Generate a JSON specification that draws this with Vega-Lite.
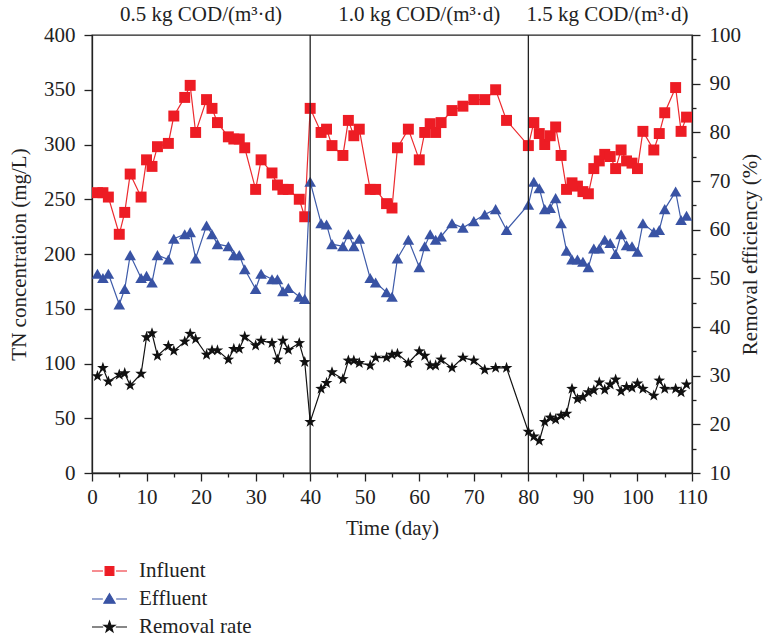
{
  "$schema": "https://vega.github.io/schema/vega-lite/v6.json",
  "width": 600,
  "height": 438,
  "autosize": {"type": "none"},
  "padding": {"left": 92, "top": 35, "right": 72, "bottom": 168},
  "background": "white",
  "config": {
    "font": "Liberation Serif",
    "view": {"stroke": "#222", "strokeWidth": 1.3},
    "axis": {
      "grid": false,
      "domainColor": "#222",
      "domainWidth": 1.3,
      "tickColor": "#222",
      "tickWidth": 1.3,
      "labelColor": "#222",
      "titleColor": "#222",
      "labelFont": "Liberation Serif",
      "titleFont": "Liberation Serif",
      "labelFontSize": 21,
      "titleFontSize": 21,
      "titleFontWeight": "normal",
      "labelPadding": 5
    }
  },
  "datasets": {
    "tn": [
      {"day": 1, "series": "Influent", "value": 256}, {"day": 2, "series": "Influent", "value": 256}, {"day": 3, "series": "Influent", "value": 252}, {"day": 5, "series": "Influent", "value": 218}, {"day": 6, "series": "Influent", "value": 238}, {"day": 7, "series": "Influent", "value": 273}, {"day": 9, "series": "Influent", "value": 252}, {"day": 10, "series": "Influent", "value": 286}, {"day": 11, "series": "Influent", "value": 280}, {"day": 12, "series": "Influent", "value": 298}, {"day": 14, "series": "Influent", "value": 301}, {"day": 15, "series": "Influent", "value": 326}, {"day": 17, "series": "Influent", "value": 343}, {"day": 18, "series": "Influent", "value": 354}, {"day": 19, "series": "Influent", "value": 311}, {"day": 21, "series": "Influent", "value": 341}, {"day": 22, "series": "Influent", "value": 333}, {"day": 23, "series": "Influent", "value": 320}, {"day": 25, "series": "Influent", "value": 307}, {"day": 26, "series": "Influent", "value": 305}, {"day": 27, "series": "Influent", "value": 305}, {"day": 28, "series": "Influent", "value": 297}, {"day": 30, "series": "Influent", "value": 259}, {"day": 31, "series": "Influent", "value": 286}, {"day": 33, "series": "Influent", "value": 274}, {"day": 34, "series": "Influent", "value": 263}, {"day": 35, "series": "Influent", "value": 259}, {"day": 36, "series": "Influent", "value": 259}, {"day": 38, "series": "Influent", "value": 250}, {"day": 39, "series": "Influent", "value": 234}, {"day": 40, "series": "Influent", "value": 333},
      {"day": 42, "series": "Influent", "value": 311}, {"day": 43, "series": "Influent", "value": 314}, {"day": 44, "series": "Influent", "value": 299}, {"day": 46, "series": "Influent", "value": 290}, {"day": 47, "series": "Influent", "value": 322}, {"day": 48, "series": "Influent", "value": 308}, {"day": 49, "series": "Influent", "value": 314}, {"day": 51, "series": "Influent", "value": 259}, {"day": 52, "series": "Influent", "value": 259}, {"day": 54, "series": "Influent", "value": 246}, {"day": 55, "series": "Influent", "value": 242}, {"day": 56, "series": "Influent", "value": 297}, {"day": 58, "series": "Influent", "value": 314}, {"day": 60, "series": "Influent", "value": 286}, {"day": 61, "series": "Influent", "value": 311}, {"day": 62, "series": "Influent", "value": 319}, {"day": 63, "series": "Influent", "value": 311}, {"day": 64, "series": "Influent", "value": 320}, {"day": 66, "series": "Influent", "value": 331}, {"day": 68, "series": "Influent", "value": 335}, {"day": 70, "series": "Influent", "value": 341}, {"day": 72, "series": "Influent", "value": 341}, {"day": 74, "series": "Influent", "value": 350}, {"day": 76, "series": "Influent", "value": 322}, {"day": 80, "series": "Influent", "value": 299},
      {"day": 81, "series": "Influent", "value": 320}, {"day": 82, "series": "Influent", "value": 310}, {"day": 83, "series": "Influent", "value": 300}, {"day": 84, "series": "Influent", "value": 308}, {"day": 85, "series": "Influent", "value": 316}, {"day": 86, "series": "Influent", "value": 290}, {"day": 87, "series": "Influent", "value": 259}, {"day": 88, "series": "Influent", "value": 265}, {"day": 89, "series": "Influent", "value": 262}, {"day": 90, "series": "Influent", "value": 257}, {"day": 91, "series": "Influent", "value": 255}, {"day": 92, "series": "Influent", "value": 278}, {"day": 93, "series": "Influent", "value": 285}, {"day": 94, "series": "Influent", "value": 291}, {"day": 95, "series": "Influent", "value": 289}, {"day": 96, "series": "Influent", "value": 278}, {"day": 97, "series": "Influent", "value": 295}, {"day": 98, "series": "Influent", "value": 285}, {"day": 99, "series": "Influent", "value": 283}, {"day": 100, "series": "Influent", "value": 278}, {"day": 101, "series": "Influent", "value": 312}, {"day": 103, "series": "Influent", "value": 295}, {"day": 104, "series": "Influent", "value": 310}, {"day": 105, "series": "Influent", "value": 329}, {"day": 107, "series": "Influent", "value": 352}, {"day": 108, "series": "Influent", "value": 312}, {"day": 109, "series": "Influent", "value": 325},
      {"day": 1, "series": "Effluent", "value": 182}, {"day": 2, "series": "Effluent", "value": 178}, {"day": 3, "series": "Effluent", "value": 182}, {"day": 5, "series": "Effluent", "value": 154}, {"day": 6, "series": "Effluent", "value": 168}, {"day": 7, "series": "Effluent", "value": 199}, {"day": 9, "series": "Effluent", "value": 178}, {"day": 10, "series": "Effluent", "value": 180}, {"day": 11, "series": "Effluent", "value": 174}, {"day": 12, "series": "Effluent", "value": 199}, {"day": 14, "series": "Effluent", "value": 195}, {"day": 15, "series": "Effluent", "value": 214}, {"day": 17, "series": "Effluent", "value": 218}, {"day": 18, "series": "Effluent", "value": 220}, {"day": 19, "series": "Effluent", "value": 196}, {"day": 21, "series": "Effluent", "value": 226}, {"day": 22, "series": "Effluent", "value": 218}, {"day": 23, "series": "Effluent", "value": 209}, {"day": 25, "series": "Effluent", "value": 207}, {"day": 26, "series": "Effluent", "value": 199}, {"day": 27, "series": "Effluent", "value": 199}, {"day": 28, "series": "Effluent", "value": 186}, {"day": 30, "series": "Effluent", "value": 168}, {"day": 31, "series": "Effluent", "value": 182}, {"day": 33, "series": "Effluent", "value": 177}, {"day": 34, "series": "Effluent", "value": 177}, {"day": 35, "series": "Effluent", "value": 166}, {"day": 36, "series": "Effluent", "value": 169}, {"day": 38, "series": "Effluent", "value": 161}, {"day": 39, "series": "Effluent", "value": 159}, {"day": 40, "series": "Effluent", "value": 266},
      {"day": 42, "series": "Effluent", "value": 228}, {"day": 43, "series": "Effluent", "value": 227}, {"day": 44, "series": "Effluent", "value": 209}, {"day": 46, "series": "Effluent", "value": 207}, {"day": 47, "series": "Effluent", "value": 218}, {"day": 48, "series": "Effluent", "value": 207}, {"day": 49, "series": "Effluent", "value": 214}, {"day": 51, "series": "Effluent", "value": 178}, {"day": 52, "series": "Effluent", "value": 174}, {"day": 54, "series": "Effluent", "value": 165}, {"day": 55, "series": "Effluent", "value": 161}, {"day": 56, "series": "Effluent", "value": 196}, {"day": 58, "series": "Effluent", "value": 213}, {"day": 60, "series": "Effluent", "value": 188}, {"day": 61, "series": "Effluent", "value": 207}, {"day": 62, "series": "Effluent", "value": 218}, {"day": 63, "series": "Effluent", "value": 213}, {"day": 64, "series": "Effluent", "value": 216}, {"day": 66, "series": "Effluent", "value": 228}, {"day": 68, "series": "Effluent", "value": 224}, {"day": 70, "series": "Effluent", "value": 230}, {"day": 72, "series": "Effluent", "value": 236}, {"day": 74, "series": "Effluent", "value": 241}, {"day": 76, "series": "Effluent", "value": 222}, {"day": 80, "series": "Effluent", "value": 245},
      {"day": 81, "series": "Effluent", "value": 266}, {"day": 82, "series": "Effluent", "value": 260}, {"day": 83, "series": "Effluent", "value": 241}, {"day": 84, "series": "Effluent", "value": 242}, {"day": 85, "series": "Effluent", "value": 251}, {"day": 86, "series": "Effluent", "value": 228}, {"day": 87, "series": "Effluent", "value": 203}, {"day": 88, "series": "Effluent", "value": 195}, {"day": 89, "series": "Effluent", "value": 195}, {"day": 90, "series": "Effluent", "value": 193}, {"day": 91, "series": "Effluent", "value": 188}, {"day": 92, "series": "Effluent", "value": 205}, {"day": 93, "series": "Effluent", "value": 205}, {"day": 94, "series": "Effluent", "value": 213}, {"day": 95, "series": "Effluent", "value": 210}, {"day": 96, "series": "Effluent", "value": 200}, {"day": 97, "series": "Effluent", "value": 218}, {"day": 98, "series": "Effluent", "value": 208}, {"day": 99, "series": "Effluent", "value": 207}, {"day": 100, "series": "Effluent", "value": 202}, {"day": 101, "series": "Effluent", "value": 228}, {"day": 103, "series": "Effluent", "value": 220}, {"day": 104, "series": "Effluent", "value": 222}, {"day": 105, "series": "Effluent", "value": 241}, {"day": 107, "series": "Effluent", "value": 257}, {"day": 108, "series": "Effluent", "value": 231}, {"day": 109, "series": "Effluent", "value": 235}
    ],
    "rem": [
      {"day": 1, "value": 29.9}, {"day": 2, "value": 31.6}, {"day": 3, "value": 28.8}, {"day": 5, "value": 30.2}, {"day": 6, "value": 30.5}, {"day": 7, "value": 28.0}, {"day": 9, "value": 30.4}, {"day": 10, "value": 37.9}, {"day": 11, "value": 38.7}, {"day": 12, "value": 34.1}, {"day": 14, "value": 36.1}, {"day": 15, "value": 35.1}, {"day": 17, "value": 37.0}, {"day": 18, "value": 38.6}, {"day": 19, "value": 37.5}, {"day": 21, "value": 34.3}, {"day": 22, "value": 35.2}, {"day": 23, "value": 35.2}, {"day": 25, "value": 33.3}, {"day": 26, "value": 35.5}, {"day": 27, "value": 35.5}, {"day": 28, "value": 38.0}, {"day": 30, "value": 36.2}, {"day": 31, "value": 37.2}, {"day": 33, "value": 36.7}, {"day": 34, "value": 33.3}, {"day": 35, "value": 37.2}, {"day": 36, "value": 35.3}, {"day": 38, "value": 36.7}, {"day": 39, "value": 32.8}, {"day": 40, "value": 20.5},
      {"day": 42, "value": 27.3}, {"day": 43, "value": 28.5}, {"day": 44, "value": 30.7}, {"day": 46, "value": 29.3}, {"day": 47, "value": 33.1}, {"day": 48, "value": 33.1}, {"day": 49, "value": 32.6}, {"day": 51, "value": 32.1}, {"day": 52, "value": 33.7}, {"day": 54, "value": 33.7}, {"day": 55, "value": 34.3}, {"day": 56, "value": 34.5}, {"day": 58, "value": 32.6}, {"day": 60, "value": 35.0}, {"day": 61, "value": 34.1}, {"day": 62, "value": 32.1}, {"day": 63, "value": 32.1}, {"day": 64, "value": 33.3}, {"day": 66, "value": 31.6}, {"day": 68, "value": 33.7}, {"day": 70, "value": 33.1}, {"day": 72, "value": 31.2}, {"day": 74, "value": 31.6}, {"day": 76, "value": 31.6}, {"day": 80, "value": 18.5},
      {"day": 81, "value": 17.5}, {"day": 82, "value": 16.6}, {"day": 83, "value": 20.5}, {"day": 84, "value": 21.4}, {"day": 85, "value": 21.0}, {"day": 86, "value": 21.8}, {"day": 87, "value": 22.2}, {"day": 88, "value": 27.3}, {"day": 89, "value": 25.2}, {"day": 90, "value": 25.6}, {"day": 91, "value": 26.6}, {"day": 92, "value": 27.0}, {"day": 93, "value": 28.6}, {"day": 94, "value": 27.1}, {"day": 95, "value": 28.2}, {"day": 96, "value": 29.2}, {"day": 97, "value": 26.8}, {"day": 98, "value": 27.7}, {"day": 99, "value": 27.5}, {"day": 100, "value": 28.4}, {"day": 101, "value": 27.3}, {"day": 103, "value": 25.9}, {"day": 104, "value": 29.0}, {"day": 105, "value": 27.3}, {"day": 107, "value": 27.3}, {"day": 108, "value": 26.6}, {"day": 109, "value": 28.2}
    ],
    "phases": [
      {"day": 20, "label": "0.5 kg COD/(m³·d)"},
      {"day": 60, "label": "1.0 kg COD/(m³·d)"},
      {"day": 94.5, "label": "1.5 kg COD/(m³·d)"}
    ],
    "dividers": [{"day": 40}, {"day": 80}]
  },
  "encoding": {
    "x": {
      "field": "day",
      "type": "quantitative",
      "scale": {"domain": [0, 110], "nice": false, "zero": false},
      "axis": {
        "title": "Time (day)",
        "values": [0, 5, 10, 15, 20, 25, 30, 35, 40, 45, 50, 55, 60, 65, 70, 75, 80, 85, 90, 95, 100, 105, 110],
        "labelExpr": "datum.value % 10 === 0 ? datum.label : ''",
        "tickSize": {"condition": {"test": "datum.value % 10 === 0", "value": 8}, "value": 4},
        "labelFlush": false,
        "labelOverlap": false,
        "titlePadding": 10
      }
    }
  },
  "layer": [
    {
      "layer": [
        {
          "data": {"name": "tn"},
          "transform": [{"filter": "datum.series === 'Influent'"}],
          "mark": {"type": "line", "color": "#EC2A2E", "strokeWidth": 1.2},
          "encoding": {
            "y": {
              "field": "value",
              "type": "quantitative",
              "scale": {"domain": [0, 400], "nice": false},
              "axis": {
                "title": "TN concentration (mg/L)",
                "values": [0, 25, 50, 75, 100, 125, 150, 175, 200, 225, 250, 275, 300, 325, 350, 375, 400],
                "labelExpr": "datum.value % 50 === 0 ? datum.label : ''",
                "tickSize": {"condition": {"test": "datum.value % 50 === 0", "value": 8}, "value": 4},
                "labelPadding": 9,
                "labelOverlap": false,
                "labelFlush": false,
                "titlePadding": 14
              }
            }
          }
        },
        {
          "data": {"name": "tn"},
          "transform": [{"filter": "datum.series === 'Influent'"}],
          "mark": {"type": "point", "shape": "square", "filled": true, "opacity": 1, "color": "#ED1C24", "size": 120},
          "encoding": {"y": {"field": "value", "type": "quantitative"}}
        },
        {
          "data": {"name": "tn"},
          "transform": [{"filter": "datum.series === 'Effluent'"}],
          "mark": {"type": "line", "color": "#3E5BA9", "strokeWidth": 1.2},
          "encoding": {"y": {"field": "value", "type": "quantitative"}}
        },
        {
          "data": {"name": "tn"},
          "transform": [{"filter": "datum.series === 'Effluent'"}],
          "mark": {"type": "point", "shape": "triangle-up", "filled": true, "opacity": 1, "color": "#3953A4", "size": 135},
          "encoding": {"y": {"field": "value", "type": "quantitative"}}
        },
        {
          "data": {"name": "dividers"},
          "mark": {"type": "rule", "color": "#222", "strokeWidth": 1.3},
          "encoding": {}
        },
        {
          "data": {"name": "phases"},
          "mark": {"type": "text", "font": "Liberation Serif", "fontSize": 21, "color": "#222", "baseline": "middle", "align": "center"},
          "encoding": {
            "y": {"datum": 418, "type": "quantitative"},
            "text": {"field": "label"}
          }
        },
        {
          "data": {"name": "tn"},
          "transform": [{"filter": "datum.value < 0"}],
          "mark": {"type": "point", "filled": true, "opacity": 1, "size": 10},
          "encoding": {
            "y": {"field": "value", "type": "quantitative"},
            "fill": {
              "field": "series",
              "type": "nominal",
              "scale": {"domain": ["Influent", "Effluent", "Removal rate"], "range": ["#ED1C24", "#3953A4", "#111111"]},
              "legend": {
                "orient": "none",
                "direction": "vertical",
                "legendX": -1,
                "legendY": 526,
                "title": null,
                "padding": 0,
                "symbolSize": 1225,
                "symbolStrokeWidth": 1.2,
                "symbolOpacity": 1,
                "labelFont": "Liberation Serif",
                "labelFontSize": 21,
                "labelColor": "#222",
                "labelOffset": 11,
                "clipHeight": 20,
                "rowPadding": 7
              }
            },
            "stroke": {
              "field": "series",
              "type": "nominal",
              "scale": {"domain": ["Influent", "Effluent", "Removal rate"], "range": ["#ED1C24", "#3953A4", "#111111"]}
            },
            "shape": {
              "field": "series",
              "type": "nominal",
              "scale": {
                "domain": ["Influent", "Effluent", "Removal rate"],
                "range": [
                  "M-1,0H-0.37M0.37,0H1M-0.25,-0.25H0.25V0.25H-0.25Z",
                  "M-1,0H-0.38M0.38,0H1M0,-0.3L0.32,0.24H-0.32Z",
                  "M-1,0H-0.36M0.36,0H1M0,-0.33L0.078,-0.107L0.314,-0.102L0.125,0.041L0.194,0.267L0,0.132L-0.194,0.267L-0.125,0.041L-0.314,-0.102L-0.078,-0.107Z"
                ]
              }
            }
          }
        }
      ]
    },
    {
      "data": {"name": "rem"},
      "encoding": {
        "y": {
          "field": "value",
          "type": "quantitative",
          "scale": {"domain": [10, 100], "nice": false, "zero": false},
          "axis": {
            "orient": "right",
            "title": "Removal efficiency (%)",
            "titleAngle": 270,
            "values": [10, 15, 20, 25, 30, 35, 40, 45, 50, 55, 60, 65, 70, 75, 80, 85, 90, 95, 100],
            "labelExpr": "datum.value % 10 === 0 ? datum.label : ''",
            "tickSize": {"condition": {"test": "datum.value % 10 === 0", "value": 8}, "value": 4},
            "labelPadding": 9,
            "labelOverlap": false,
            "labelFlush": false,
            "titlePadding": 20
          }
        }
      },
      "layer": [
        {"mark": {"type": "line", "color": "#111111", "strokeWidth": 1.2}},
        {
          "mark": {
            "type": "point",
            "filled": true,
            "opacity": 1,
            "color": "#111111",
            "size": 150,
            "shape": "M0,-1L0.235,-0.324L0.951,-0.309L0.38,0.124L0.588,0.809L0,0.4L-0.588,0.809L-0.38,0.124L-0.951,-0.309L-0.235,-0.324Z"
          }
        }
      ]
    }
  ],
  "resolve": {"scale": {"y": "independent"}}
}
